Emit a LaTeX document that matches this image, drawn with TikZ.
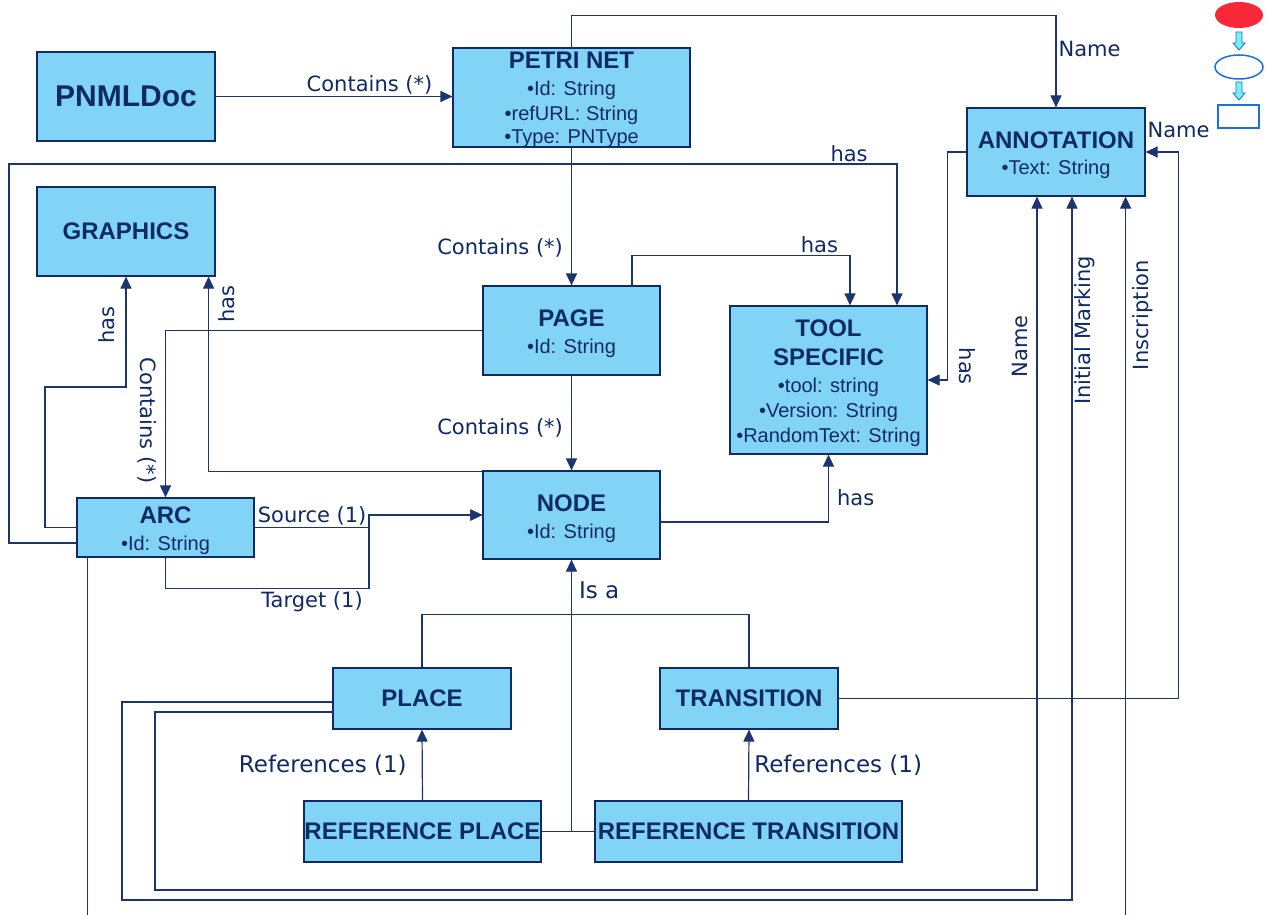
\documentclass[tikz,border=0pt]{standalone}
\usepackage{fontspec}
\setmainfont{Liberation Sans}
\newfontfamily\labelfont{DejaVu Sans}
\usetikzlibrary{arrows.meta}

\definecolor{boxfill}{RGB}{130,212,246}
\definecolor{navy}{RGB}{16,42,102}
\definecolor{linecol}{RGB}{28,52,112}
\definecolor{legendblue}{RGB}{30,110,230}
\definecolor{legendred}{RGB}{250,40,55}
\definecolor{legendcyan}{RGB}{120,240,240}

\newcommand\boxtitle[1]{{\bfseries\fontsize{24}{27}\selectfont #1}}
\newcommand\boxhead[1]{\rule{0pt}{24pt}\boxtitle{#1}}

\begin{document}
\begin{tikzpicture}[x=1pt,y=-1pt,
  box/.style={draw=navy,line width=1.2pt,fill=boxfill,text=navy,inner sep=0pt,
    align=center,font=\fontsize{20}{25}\selectfont},
  conn/.style={draw=linecol,line width=1.2pt},
  arr/.style={conn,-{Triangle[length=12pt,width=11pt]}},
  lbl/.style={text=navy,font=\labelfont\fontsize{21}{24}\selectfont,inner sep=2pt},
  biglbl/.style={lbl,font=\labelfont\fontsize{23}{26}\selectfont}]

\fill[white] (0,0) rectangle (1272,915);
\useasboundingbox (0,0) rectangle (1272,915);

% classes
\node[box,minimum width=178pt,minimum height=89pt] (doc) at (126,96.5) {\bfseries\fontsize{30}{34}\selectfont PNMLDoc};
\node[box,font=\fontsize{20}{24}\selectfont,text height=93pt,text depth=0pt,minimum width=237pt,minimum height=99pt] (petri) at (571.5,97.5) {\boxtitle{PETRI NET}\\[3pt]•Id: String\\•refURL: String\\•Type: PNType};
\node[box,minimum width=178pt,minimum height=88pt] (annot) at (1056,152) {\boxhead{ANNOTATION}\\[1pt]•Text: String};
\node[box,minimum width=178pt,minimum height=89pt] (graphics) at (126,231.5) {\boxtitle{GRAPHICS}};
\node[box,minimum width=177pt,minimum height=89pt] (page) at (571.5,330.5) {\boxhead{PAGE}\\[2pt]•Id: String};
\node[box,minimum width=197pt,minimum height=148pt] (tool) at (828.5,380) {\boxhead{TOOL}\\[4pt]\boxtitle{SPECIFIC}\\[2pt]•tool: string\\•Version: String\\•RandomText: String};
\node[box,minimum width=177pt,minimum height=88pt] (pnnode) at (571.5,515) {\boxhead{NODE}\\[2pt]•Id: String};
\node[box,minimum width=177pt,minimum height=59pt] (arc) at (165.5,527.5) {\boxhead{ARC}\\[2pt]•Id: String};
\node[box,minimum width=178pt,minimum height=61pt] (place) at (422,698.5) {\boxtitle{PLACE}};
\node[box,minimum width=178pt,minimum height=61pt] (trans) at (749,698.5) {\boxtitle{TRANSITION}};
\node[box,minimum width=237pt,minimum height=61pt] (refplace) at (422.5,831.5) {\boxtitle{REFERENCE PLACE}};
\node[box,minimum width=307pt,minimum height=61pt] (reftrans) at (748.5,831.5) {\boxtitle{REFERENCE TRANSITION}};

% associations
\draw[arr] (doc.east) -- (doc.east -| petri.west) node[lbl,pos=0.65,above]{Contains (*)};
\draw[arr] (petri.north) -- ++(0,-32) -| (annot.north) node[lbl,pos=0.68,right]{Name};
\draw[arr] (petri.south) -- (page.north) node[lbl,pos=0.73,left=6pt]{Contains (*)};
\draw[arr] ([yshift=-15.5pt]arc.west) -| (9,164) -| ([xshift=68.5pt]tool.north) node[lbl,pos=0.473,above]{has};
\draw[arr] ([xshift=60.5pt]page.north) -- ++(0,-30) -| ([xshift=21.5pt]tool.north) node[lbl,pos=0.43,above]{has};
\draw[arr] (annot.west) -- ++(-19,0) |- (tool.east) node[lbl,pos=0.47,xshift=9pt,rotate=-90,anchor=south]{has};
\draw[arr] (page.west) -| (arc.north) node[lbl,pos=0.77,xshift=-6pt,rotate=-90,anchor=north]{Contains (*)};
\draw[arr] (arc.west) -| (45,387) -| (graphics.south) node[lbl,pos=0.78,xshift=-9pt,rotate=90,anchor=south]{has};
\draw[arr] ([yshift=-1pt]pnnode.north west) -| ([xshift=-7pt]graphics.south east) node[lbl,pos=0.93,xshift=7pt,rotate=90,anchor=north]{has};
\draw[arr] (page.south) -- (pnnode.north) node[lbl,pos=0.55,left=6pt]{Contains (*)};
\draw[arr] (arc.east) -- ++(115,0) node[lbl,midway,above]{Source (1)} |- (pnnode.west);
\draw[arr] (arc.south) |- ++(203.5,31) node[lbl,pos=0.86,below]{Target (1)} |- (pnnode.west);
\draw[arr] ([yshift=-7pt]pnnode.east) -| (tool.south) node[lbl,pos=0.68,right=6pt]{has};

% annotation links from the bottom
\draw[arr] ([xshift=11pt]arc.south west) -- ++(0,370) -| ([xshift=-20pt]annot.south east) node[lbl,pos=0.919,xshift=4pt,rotate=90,anchor=north]{Inscription};
\draw[arr] ([yshift=-3.5pt]place.west) -| (122,900) -| ([xshift=16pt]annot.south) node[lbl,pos=0.905,rotate=90,anchor=north]{Initial Marking};
\draw[arr] ([yshift=-13.5pt]place.west) -| (155,890) -| ([xshift=-19pt]annot.south) node[lbl,pos=0.892,xshift=-7pt,rotate=90,anchor=south]{Name};
\draw[arr] (trans.east) -- ++(340,0) |- (annot.east) node[lbl,pos=0.5,above=12pt]{Name};

% is a
\draw[conn] (place.north) -- ++(0,-53) -| (trans.north);
\draw[conn] (refplace.east) -- (reftrans.west);
\draw[arr] (pnnode.south |- refplace.east) -- (pnnode.south) node[biglbl,pos=0.886,right=5pt]{Is a};
\draw[arr] (refplace.north) -- (place.south) node[biglbl,midway,left=13pt]{References (1)};
\draw[arr] (reftrans.north) -- (trans.south) node[biglbl,midway,right=3pt]{References (1)};

% legend
\fill[legendred] (1239,15) ellipse (24 and 13);
\draw[legendblue,line width=1.5pt] (1239,67) ellipse (24 and 12);
\draw[legendblue,line width=1.5pt] (1218,105) rectangle (1259,128);
\foreach \y in {32,82}
  \draw[legendblue,fill=legendcyan,line width=0.8pt] (1236,\y) -- (1242,\y) -- (1242,\y+11) -- (1245,\y+11) -- (1239,\y+18) -- (1233,\y+11) -- (1236,\y+11) -- cycle;

\end{tikzpicture}
\end{document}
